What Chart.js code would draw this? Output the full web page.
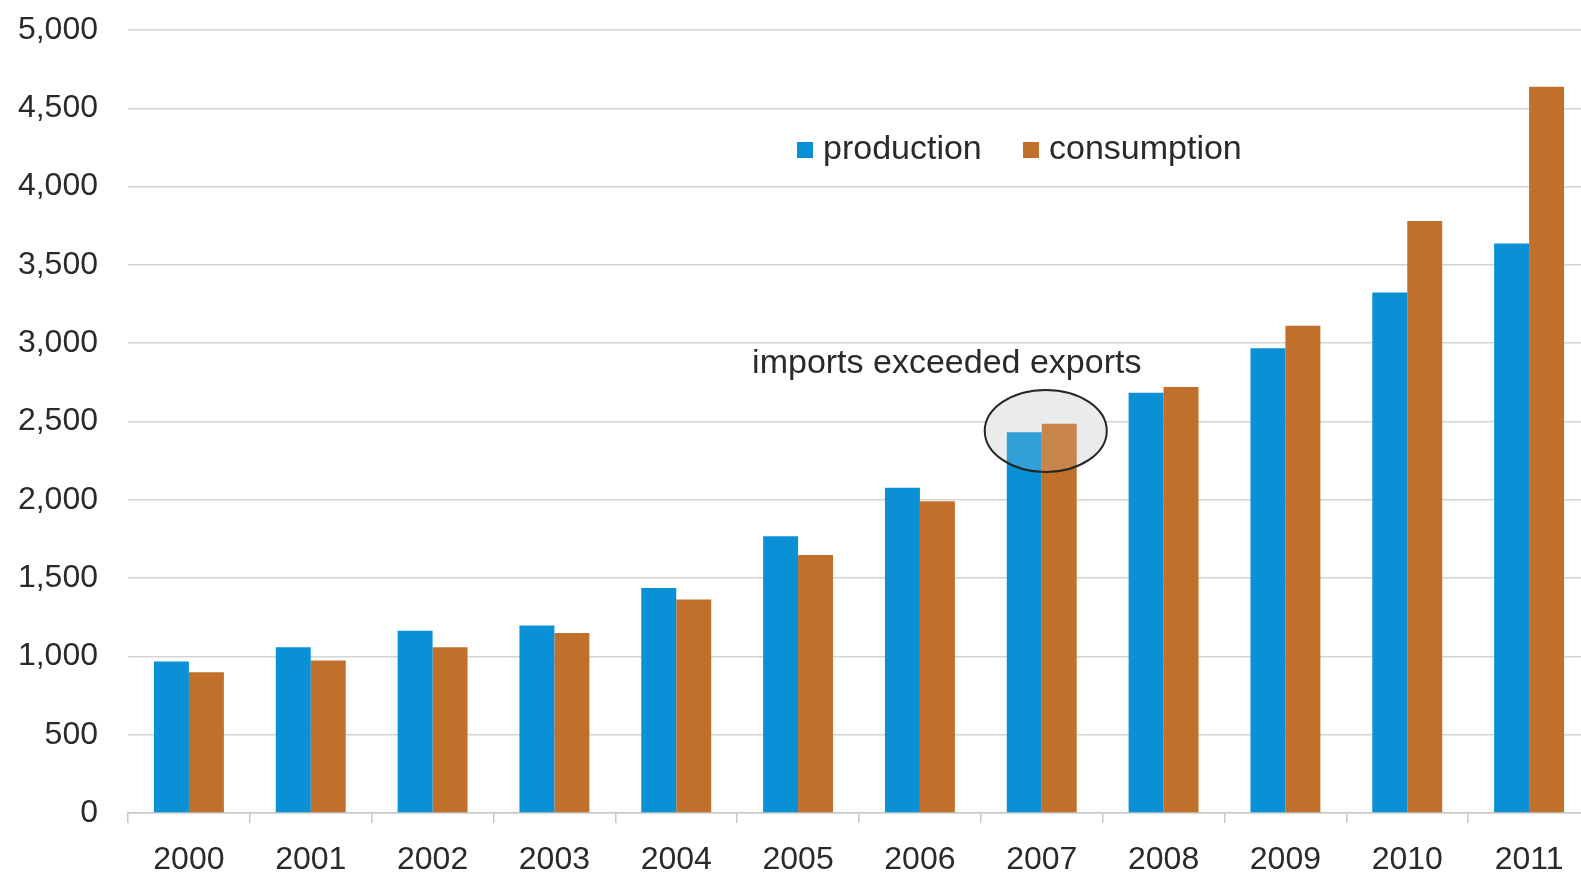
<!DOCTYPE html>
<html>
<head>
<meta charset="utf-8">
<script src="https://cdn.jsdelivr.net/npm/chart.js@4.4.0/dist/chart.umd.min.js"></script>
<style>
  html, body { margin: 0; padding: 0; background: #fff; overflow: hidden; }
  #wrap { width: 1592px; height: 875px; position: relative; }
</style>
</head>
<body>
<div id="wrap"><canvas id="chart"></canvas></div>
<script>
const years = ['2000', '2001', '2002', '2003', '2004', '2005', '2006', '2007', '2008', '2009', '2010', '2011']
const production = [968, 1058, 1164, 1198, 1436, 1767, 2077, 2432, 2684, 2968, 3324, 3636]
const consumption = [898, 974, 1058, 1149, 1364, 1648, 1990, 2485, 2720, 3111, 3780, 4637]
const yTicks = [0, 500, 1000, 1500, 2000, 2500, 3000, 3500, 4000, 4500, 5000]

const BLUE = '#0a90d4'
const ORANGE = '#c0702a'
const TEXT = '#2a2a2a'
const FONT = '"Liberation Sans", Arial, sans-serif'

// legend drawn inside the plot, like the original
const innerLegend = {
  id: 'innerLegend',
  afterDraw(chart) {
    const ctx = chart.ctx
    const items = [
      { x: 797, textX: 823 },
      { x: 1023, textX: 1049 }
    ]
    const y = 150
    ctx.save()
    ctx.font = '34px ' + FONT
    ctx.textBaseline = 'middle'
    chart.data.datasets.forEach((ds, i) => {
      ctx.fillStyle = ds.backgroundColor
      ctx.fillRect(items[i].x, y - 8, 16, 16)
      ctx.fillStyle = TEXT
      ctx.fillText(ds.label, items[i].textX, y)
    })
    ctx.restore()
  }
}

// circle round 2007 and its note
function notePath(chart) {
  const { ctx, scales } = chart
  const cx = scales.x.getPixelForValue(7) + 4
  const cy = scales.y.getPixelForValue(2440)
  ctx.beginPath()
  ctx.ellipse(cx, cy, 61, 41, 0, 0, Math.PI * 2)
  return cx
}

const noteCircle = {
  id: 'noteCircle',
  beforeDatasetsDraw(chart) {
    const ctx = chart.ctx
    ctx.save()
    notePath(chart)
    ctx.fillStyle = '#ececec'
    ctx.fill()
    ctx.restore()
  },
  afterDatasetsDraw(chart) {
    const { ctx, scales } = chart
    ctx.save()
    const cx = notePath(chart)
    ctx.fillStyle = 'rgba(235, 235, 235, 0.18)'
    ctx.fill()
    ctx.lineWidth = 2
    ctx.strokeStyle = '#262626'
    ctx.stroke()
    ctx.font = '34px ' + FONT
    ctx.fillStyle = TEXT
    ctx.textAlign = 'center'
    ctx.textBaseline = 'middle'
    ctx.fillText('imports exceeded exports', cx - 99, scales.y.getPixelForValue(2870))
    ctx.restore()
  }
}

new Chart(document.getElementById('chart'), {
  type: 'bar',
  data: {
    labels: years,
    datasets: [
      { label: 'production', data: production, backgroundColor: BLUE },
      { label: 'consumption', data: consumption, backgroundColor: ORANGE }
    ]
  },
  options: {
    responsive: true,
    maintainAspectRatio: false,
    animation: false,
    layout: { autoPadding: false, padding: { top: 30, left: 18, right: 2, bottom: 0 } },
    datasets: { bar: { barPercentage: 1, categoryPercentage: 0.574 } },
    plugins: {
      legend: { display: false },
      tooltip: { enabled: false }
    },
    scales: {
      x: {
        afterFit: (scale) => { scale.height = 62 },
        grid: {
          offset: true,
          drawOnChartArea: false,
          drawTicks: true,
          tickLength: 10,
          color: '#c8c8c8',
          lineWidth: 1.5
        },
        border: { color: '#c8c8c8', width: 1.5 },
        ticks: {
          color: TEXT,
          padding: 21,
          maxRotation: 0,
          font: { family: FONT, size: 32, lineHeight: 1 }
        }
      },
      y: {
        min: 0,
        max: 5000,
        afterBuildTicks: (scale) => { scale.ticks = yTicks.map(v => ({ value: v })) },
        afterFit: (scale) => {
          scale.width = 110
          // the label padding should not push the plot down
          scale.paddingTop = 0
          scale.paddingBottom = 0
        },
        grid: { drawTicks: false, color: '#d4d4d4', lineWidth: 1.5 },
        border: { display: false },
        ticks: {
          color: TEXT,
          padding: 30,
          font: { family: FONT, size: 32, lineHeight: 1 },
          callback: (v) => v.toLocaleString('en-US')
        }
      }
    }
  },
  plugins: [innerLegend, noteCircle]
})
</script>
</body>
</html>
